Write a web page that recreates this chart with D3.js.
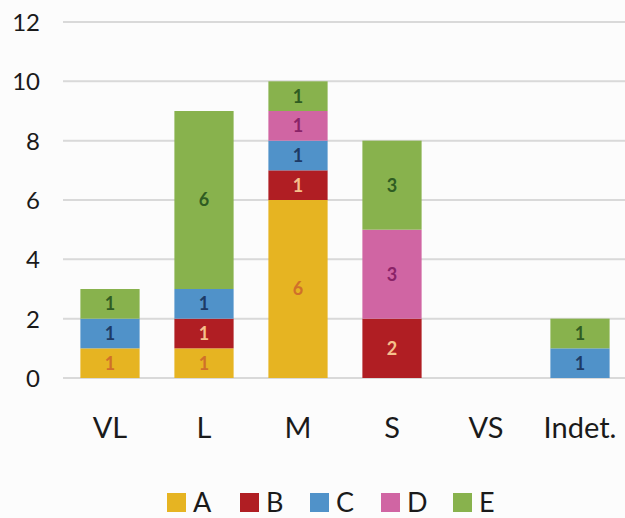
<!DOCTYPE html>
<html>
<head>
<meta charset="utf-8">
<script src="https://cdn.jsdelivr.net/npm/d3@7"></script>
<style>
  html, body { margin: 0; padding: 0; background: #fff; }
  svg { display: block; }
  text { font-family: Lato, "Open Sans", sans-serif; }
</style>
</head>
<body>
<svg id="chart" width="625" height="518"></svg>
<script>
// Size classes along the x axis
const categories = ["VL", "L", "M", "S", "VS", "Indet."];
// Stack series, bottom to top
const seriesNames = ["A", "B", "C", "D", "E"];
const valuesA = [1, 1, 6, 0, 0, 0];
const valuesB = [0, 1, 1, 2, 0, 0];
const valuesC = [1, 1, 1, 0, 0, 1];
const valuesD = [0, 0, 1, 3, 0, 0];
const valuesE = [1, 6, 1, 3, 0, 1];
const yTicks = [0, 2, 4, 6, 8, 10, 12];

const fillColors = ["#E6B422", "#B01E23", "#5092C9", "#D065A3", "#88B24D"];
const labelColors = ["#D0702A", "#F6C08C", "#1D3A66", "#8A2368", "#2F5C22"];

const seriesValues = [valuesA, valuesB, valuesC, valuesD, valuesE];
const table = categories.map((c, i) => {
  const row = { cat: c };
  seriesNames.forEach((s, k) => { row[s] = seriesValues[k][i]; });
  return row;
});

const svg = d3.select("#chart");
svg.append("rect").attr("width", 625).attr("height", 518).attr("fill", "#fcfcfc");

const margin = { left: 63, right: -2, top: 22, bottom: 140 };
const W = 625, H = 518;
const x = d3.scaleBand().domain(categories)
  .range([margin.left, W - margin.right]).paddingInner(0.37).paddingOuter(0.185);
const y = d3.scaleLinear().domain([0, 12]).range([378, 22]);

// Horizontal gridlines
svg.append("g").selectAll("line").data(yTicks).join("line")
  .attr("x1", margin.left).attr("x2", W)
  .attr("y1", d => y(d)).attr("y2", d => y(d))
  .attr("stroke", "#d9d9d9").attr("stroke-width", 2);

// Value axis labels
const yAxis = d3.axisLeft(y).tickValues(yTicks).tickSize(0).tickPadding(0);
const yg = svg.append("g").attr("transform", "translate(40,0)").call(yAxis);
yg.select(".domain").remove();
yg.selectAll("text").attr("font-size", 24).attr("fill", "#1a1a1a")
  .attr("font-family", "Lato, sans-serif").attr("dy", "0.35em");

// Category axis labels
const xAxis = d3.axisBottom(x).tickSize(0).tickPadding(0);
const xg = svg.append("g").attr("transform", "translate(0,438)").call(xAxis);
xg.select(".domain").remove();
xg.selectAll("text").attr("font-size", 29).attr("fill", "#1a1a1a")
  .attr("font-family", "Lato, sans-serif").attr("dy", 0);

// Stacked bars
const stack = d3.stack().keys(seriesNames)(table);
const layers = svg.append("g").selectAll("g").data(stack).join("g")
  .attr("fill", (d, i) => fillColors[i]);
layers.selectAll("rect").data(d => d.filter(p => p[1] > p[0])).join("rect")
  .attr("x", d => x(d.data.cat))
  .attr("width", x.bandwidth())
  .attr("y", d => y(d[1]))
  .attr("height", d => y(d[0]) - y(d[1]));

// Segment value labels
const lab = svg.append("g").selectAll("g").data(stack).join("g")
  .attr("fill", (d, i) => labelColors[i]);
lab.selectAll("text").data(d => d.filter(p => p[1] > p[0])).join("text")
  .attr("x", d => x(d.data.cat) + x.bandwidth() / 2)
  .attr("y", d => (y(d[0]) + y(d[1])) / 2)
  .attr("dy", "0.36em")
  .attr("text-anchor", "middle")
  .attr("font-size", 18)
  .attr("font-weight", "bold")
  .text(d => d[1] - d[0]);

// Legend
const legendX = [167, 240, 310, 381, 453];
const lg = svg.append("g").selectAll("g").data(seriesNames).join("g")
  .attr("transform", (d, i) => `translate(${legendX[i]},493)`);
lg.append("rect").attr("width", 19).attr("height", 19)
  .attr("fill", (d, i) => fillColors[i]);
lg.append("text").attr("x", 26).attr("y", 19)
  .attr("font-size", 27).attr("fill", "#1a1a1a").text(d => d);
</script>
</body>
</html>
